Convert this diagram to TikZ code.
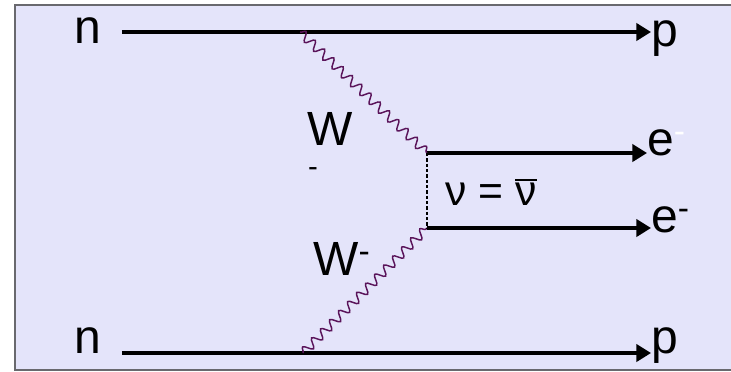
\documentclass[tikz,border=0pt]{standalone}
\usepackage{fontspec}
\setmainfont{Liberation Sans}
\usetikzlibrary{arrows.meta,decorations.pathmorphing}
\definecolor{xLavender}{RGB}{228,228,250}
\definecolor{xFrame}{RGB}{105,105,110}
\definecolor{xWiggle}{RGB}{90,20,90}

\begin{document}
\begin{tikzpicture}[x=0.75pt,y=-0.75pt,
    lbl/.style={inner sep=0pt,anchor=base west,font=\fontsize{36}{43}\selectfont},
    fermion/.style={line width=2.3pt,-{Triangle[length=11pt,width=13pt]}},
    boson/.style={xWiggle,line width=1.1pt,
        decorate,decoration={snake,segment length=9.6pt,amplitude=3.4pt}},
    dotline/.style={line width=2pt,dash pattern=on 2.4pt off 1.6pt}]

    % -------------------------------------------------
    % Frame and background
    % -------------------------------------------------
    \useasboundingbox (0,0) rectangle (731,371);
    \fill[white] (0,0) rectangle (731,371);
    \draw[xFrame,fill=xLavender,line width=1.2pt] (745,5) -- (15,5) -- (15,370) -- (745,370);

    % -------------------------------------------------
    % Vertices of the diagram
    % -------------------------------------------------
    \coordinate (vTop) at (300,32);
    \coordinate (vUp) at (427,153);
    \coordinate (vLow) at (427,228);
    \coordinate (vBot) at (303,353);

    % -------------------------------------------------
    % Particle labels
    % -------------------------------------------------
    \node[lbl] (nTop) at (74,43) {n};
    \node[lbl] (nBot) at (74,353) {n};
    \node[lbl] (pTop) at (651,46) {p};
    \node[lbl] (pBot) at (651,353) {p};
    \node[lbl] (eTop) at (647,155) {e\textsuperscript{\color{white}-}};
    \node[lbl] (eBot) at (651,232) {e\textsuperscript{-}};
    \node[lbl] (wTop) at (307,145) {W};
    \node[inner sep=0pt,font=\fontsize{22}{26}\selectfont] (wMinus) at (313,172) {-};
    \node[lbl] (wBot) at (313,275) {W\textsuperscript{-}};
    \node[lbl,font=\fontsize{32}{38}\selectfont] (nuLbl) at (445,205)
        {ν = \makebox[0pt][l]{\raisebox{0.56em}{\rule{0.5em}{1.6pt}}}ν};

    % -------------------------------------------------
    % Nucleon and electron lines
    % -------------------------------------------------
    \draw[fermion] ([xshift=15.5pt]nTop.east |- vTop) -- (pTop.west |- vTop);
    \draw[fermion] ([xshift=15.5pt]nBot.east |- vBot) -- (pBot.west |- vBot);
    \draw[fermion] (vUp) -- (eTop.west |- vUp);
    \draw[fermion] (vLow) -- (eBot.west |- vLow);

    % -------------------------------------------------
    % W exchange and neutrino
    % -------------------------------------------------
    \draw[boson] (vTop) -- (vUp);
    \draw[boson] (vBot) -- (vLow);
    \draw[dotline] (vUp) -- (vLow);
\end{tikzpicture}
\end{document}
